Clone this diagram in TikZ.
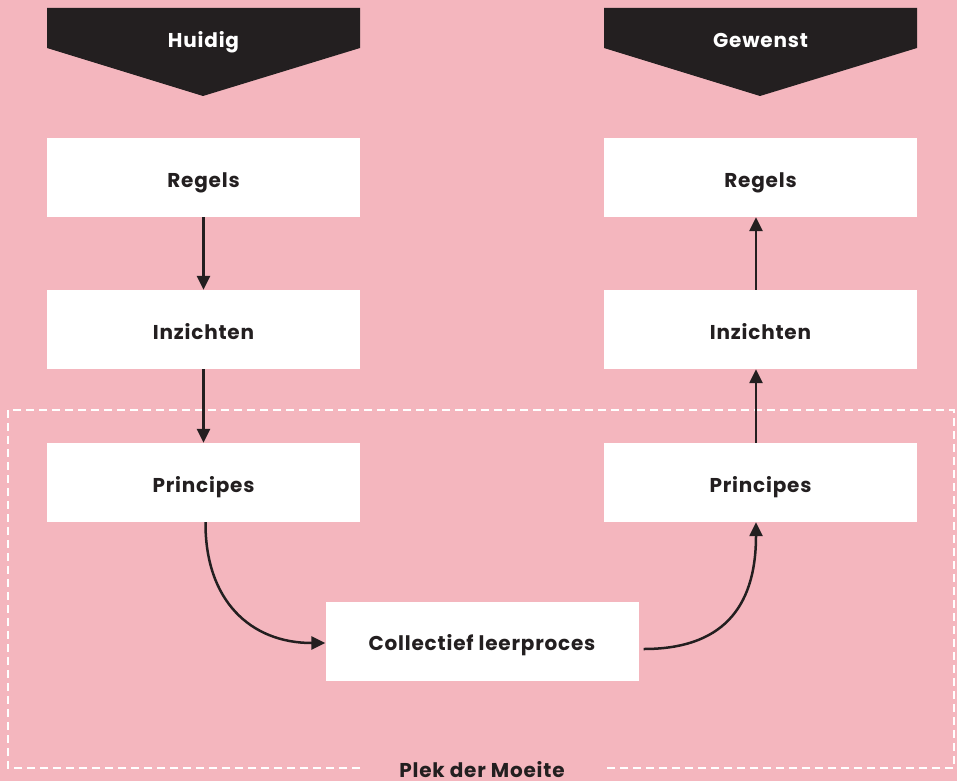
\documentclass[tikz,border=0pt]{standalone}
\usepackage{fontspec}
\setmainfont{Poppins}[LetterSpace=4]
\usetikzlibrary{arrows.meta,calc}
\definecolor{bgpink}{HTML}{F4B6BE}
\definecolor{ink}{HTML}{231F20}
\begin{document}
\begin{tikzpicture}[x=1pt,y=-1pt,
  lbl/.style={font=\fontsize{20}{24}\selectfont\bfseries,text height=20pt,text depth=1pt,inner sep=0pt},
  box/.style={fill=white,draw=none,minimum width=313pt,minimum height=79pt,lbl,text=ink},
  conn/.style={draw=ink,line width=2.5pt,-{Triangle[length=14pt,width=13pt]}},
  hdr/.style={fill=ink,draw=none},
  hdrtext/.style={text=white,lbl}]
\fill[bgpink] (0,0) rectangle (957,781);
\useasboundingbox (0,0) rectangle (957,781);
% headers
\fill[hdr] (47,8) -- (360,8) -- (360,48) -- (203,96) -- (47,48) -- cycle;
\node[hdrtext] (hh) at (203.5,38.5) {Huidig};
\fill[hdr] (604,8) -- (917,8) -- (917,48) -- (760,96) -- (604,48) -- cycle;
\node[hdrtext] (hg) at (760.5,38.5) {Gewenst};
% dashed region
\draw[white,line width=2pt,dash pattern=on 8pt off 5pt]
  (360,768) -- (8,768) -- (8,410) -- (954,410) -- (954,768) -- (605,768);
\node[text=ink,lbl] (plek) at (482,768) {Plek der Moeite};
% boxes
\node[box] (lr) at (203.5,177.5) {Regels};
\node[box] (li) at (203.5,329.5) {Inzichten};
\node[box] (lp) at (203.5,482.5) {Principes};
\node[box] (rr) at (760.5,177.5) {Regels};
\node[box] (ri) at (760.5,329.5) {Inzichten};
\node[box] (rp) at (760.5,482.5) {Principes};
\node[box] (cl) at (482,641) {Collectief leerproces};
% connectors
\draw[conn] (lr.south) -- (li.north);
\draw[conn] (li.south) -- (lp.north);
\draw[conn] ($(ri.north)+(-4.5,0)$) -- ($(rr.south)+(-4.5,0)$);
\draw[conn] ($(rp.north)+(-4.5,0)$) -- ($(ri.south)+(-4.5,0)$);
\draw[conn] ($(lp.south)+(2,0)$) .. controls (205,600) and (250,643) .. ($(cl.west)+(0,2)$);
\draw[conn] ($(cl.east)+(5,8)$) .. controls (720,649) and (756,610) .. ($(rp.south)+(-4.5,0)$);
\end{tikzpicture}
\end{document}
